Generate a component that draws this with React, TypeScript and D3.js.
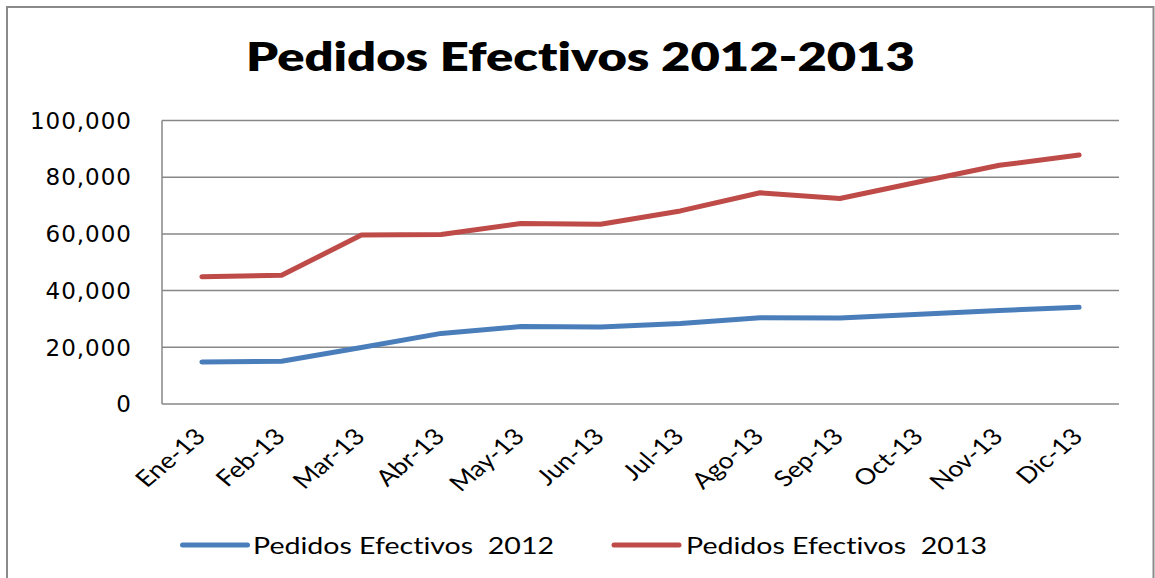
import React from "react";
import * as d3 from "d3";

const categories = ["Ene-13", "Feb-13", "Mar-13", "Abr-13", "May-13", "Jun-13", "Jul-13", "Ago-13", "Sep-13", "Oct-13", "Nov-13", "Dic-13"];
const pedidos2012 = [14800, 15100, 19900, 24900, 27300, 27200, 28400, 30400, 30300, 31700, 33000, 34100];
const pedidos2013 = [44900, 45400, 59600, 59800, 63700, 63400, 68100, 74500, 72500, 78400, 84200, 87800];
const yTicks = [0, 20000, 40000, 60000, 80000, 100000];
const seriesNames = ["Pedidos Efectivos  2012", "Pedidos Efectivos  2013"];
const colors = ["#4A7EBB", "#BE4B48"];

const W = 1155;
const H = 578;
const left = 162;
const right = 1119;
const top = 120.5;
const bottom = 404;

const noLig = { fontVariantLigatures: "none", fontFeatureSettings: '"liga" 0, "dlig" 0' } as React.CSSProperties;

export default function App() {
  const x = d3.scaleBand<string>().domain(categories).range([left, right]);
  const y = d3.scaleLinear().domain([0, 100000]).range([bottom, top]);
  const cx = (c: string) => (x(c) as number) + x.bandwidth() / 2;
  const line = d3
    .line<number>()
    .x((_, i) => cx(categories[i]))
    .y((d) => y(d));
  const fmt = d3.format(",");
  const series = [pedidos2012, pedidos2013];
  const legendX = [182.5, 614];
  const legendTextX = [253, 686];

  return (
    <svg
      width={W}
      height={H}
      style={{ position: "absolute", left: 0, top: 0, background: "#fff" }}
    >
      <rect x={0} y={0} width={W} height={H} fill="#fff" />
      <rect x={7} y={7} width={1146.5} height={620} fill="none" stroke="#8a8a8a" strokeWidth={2} />
      <text
        x={246}
        y={70.5}
        fontFamily="Lato"
        fontWeight={800}
        fontSize={39}
        textLength={669}
        lengthAdjust="spacingAndGlyphs"
        fill="#000"
        style={noLig}
      >
        Pedidos Efectivos 2012-2013
      </text>
      {yTicks.map((t) => (
        <g key={t}>
          <line x1={left} x2={right} y1={y(t)} y2={y(t)} stroke="#878787" strokeWidth={1.5} />
          <text
            x={132}
            y={y(t)}
            dy="0.36em"
            textAnchor="end"
            fontFamily="DejaVu Sans"
            fontSize={23}
            letterSpacing={1}
            fill="#000"
          >
            {fmt(t)}
          </text>
        </g>
      ))}
      <line x1={left} x2={left} y1={top} y2={bottom} stroke="#878787" strokeWidth={1.5} />
      {categories.map((c) => (
        <text
          key={c}
          transform={`translate(${cx(c) + 5},438) scale(1.19,1) rotate(-45)`}
          textAnchor="end"
          fontFamily="Lato"
          fontSize={22.5}
          fill="#000"
        >
          {c}
        </text>
      ))}
      {series.map((s, i) => (
        <path
          key={i}
          d={line(s) as string}
          fill="none"
          stroke={colors[i]}
          strokeWidth={5}
          strokeLinecap="round"
          strokeLinejoin="round"
        />
      ))}
      {seriesNames.map((n, i) => (
        <g key={n}>
          <line
            x1={legendX[i]}
            x2={legendX[i] + 65}
            y1={545}
            y2={545}
            stroke={colors[i]}
            strokeWidth={5}
            strokeLinecap="round"
          />
          <text
            x={legendTextX[i]}
            y={553.5}
            fontFamily="Lato"
            fontSize={23}
            textLength={301}
            lengthAdjust="spacingAndGlyphs"
            fill="#000"
            style={{ whiteSpace: "pre", ...noLig }}
          >
            {n}
          </text>
        </g>
      ))}
    </svg>
  );
}
